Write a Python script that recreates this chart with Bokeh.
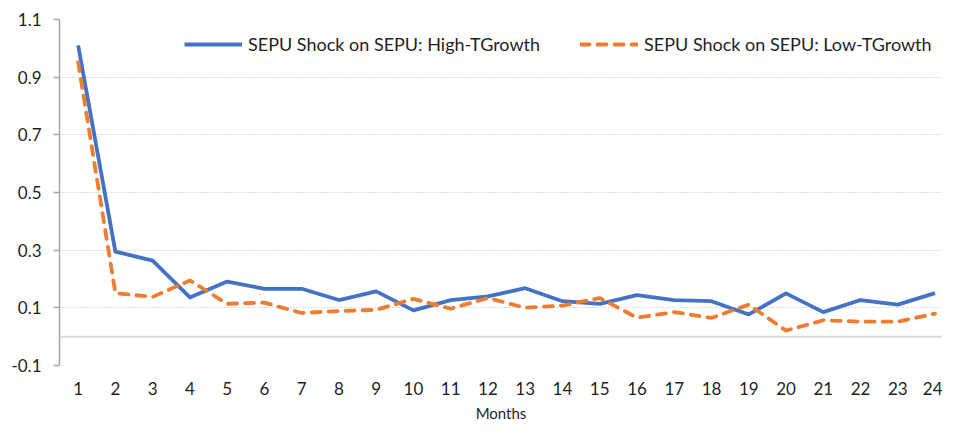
from bokeh.plotting import figure
from bokeh.models import Span, Legend, LegendItem, FixedTicker, Range1d
from bokeh.embed import file_html
from bokeh.resources import INLINE

months = list(range(1, 25))
high_tgrowth = [1.01, 0.295, 0.264, 0.136, 0.191, 0.166, 0.166, 0.127, 0.157, 0.091,
                0.127, 0.140, 0.168, 0.123, 0.114, 0.144, 0.127, 0.123, 0.077, 0.150,
                0.085, 0.127, 0.111, 0.151]
low_tgrowth = [0.952, 0.151, 0.138, 0.195, 0.114, 0.118, 0.082, 0.089, 0.093, 0.131,
               0.097, 0.134, 0.100, 0.108, 0.134, 0.066, 0.085, 0.065, 0.111, 0.021,
               0.057, 0.052, 0.052, 0.080]
y_ticks = [-0.1, 0.1, 0.3, 0.5, 0.7, 0.9, 1.1]
y_tick_labels = {-0.1: "-0.1", 0.1: "0.1", 0.3: "0.3", 0.5: "0.5", 0.7: "0.7", 0.9: "0.9", 1.1: "1.1"}

FONT = "Lato"
TXT = "#1f1f1f"

p = figure(width=942, height=425, output_backend="svg", toolbar_location=None,
           x_range=Range1d(0.5, 24.2), y_range=Range1d(-0.1, 1.1),
           min_border_left=59, min_border_right=0, min_border_top=19, min_border_bottom=60)
p.outline_line_color = None
p.background_fill_color = "white"
p.border_fill_color = "white"

# grid
p.xgrid.grid_line_color = None
p.ygrid.ticker = FixedTicker(ticks=y_ticks)
p.ygrid.grid_line_color = "#bdbdbd"
p.ygrid.grid_line_dash = "1 2"
p.ygrid.grid_line_width = 1

zero = Span(location=0, dimension="width", line_color="#d9d9d9", line_width=2)
p.add_layout(zero)

# y axis
p.yaxis.ticker = FixedTicker(ticks=y_ticks)
p.yaxis.major_label_overrides = y_tick_labels
p.yaxis.axis_line_color = "#a6a6a6"
p.yaxis.axis_line_width = 1.5
p.yaxis.major_tick_line_color = "#a6a6a6"
p.yaxis.major_tick_line_width = 1.5
p.yaxis.major_tick_out = 6
p.yaxis.major_tick_in = 0
p.yaxis.minor_tick_line_color = None
p.yaxis.major_label_standoff = 12
p.yaxis.major_label_text_font = FONT
p.yaxis.major_label_text_font_size = "17px"
p.yaxis.major_label_text_color = TXT

# x axis
p.xaxis.ticker = FixedTicker(ticks=months)
p.xaxis.axis_line_color = None
p.xaxis.major_tick_line_color = None
p.xaxis.major_tick_out = 0
p.xaxis.major_tick_in = 0
p.xaxis.minor_tick_line_color = None
p.xaxis.major_label_standoff = 16
p.xaxis.major_label_text_font = FONT
p.xaxis.major_label_text_font_size = "17px"
p.xaxis.major_label_text_color = TXT
p.xaxis.axis_label = "Months"
p.xaxis.axis_label_text_font = FONT
p.xaxis.axis_label_text_font_size = "15px"
p.xaxis.axis_label_text_font_style = "normal"
p.xaxis.axis_label_text_color = TXT
p.xaxis.axis_label_standoff = 6

r1 = p.line(months, high_tgrowth, line_color="#4472C4", line_width=3.8, line_join="round")
r2 = p.line(months, low_tgrowth, line_color="#ED7D31", line_width=3.8, line_dash="9 8",
            line_cap="round", line_join="round")

legend = Legend(items=[LegendItem(label="SEPU Shock on SEPU: High-TGrowth", renderers=[r1]),
                       LegendItem(label="SEPU Shock on SEPU: Low-TGrowth", renderers=[r2])],
                orientation="horizontal", location=(125, 310))
legend.border_line_color = None
legend.background_fill_alpha = 0
legend.padding = 0
legend.margin = 0
legend.spacing = 40
legend.glyph_width = 58
legend.glyph_height = 20
legend.label_height = 20
legend.label_standoff = 6
legend.label_text_font = FONT
legend.label_text_font_size = "18px"
legend.label_text_color = TXT
p.add_layout(legend, "center")

open("out.html", "w").write(file_html(p, INLINE))
